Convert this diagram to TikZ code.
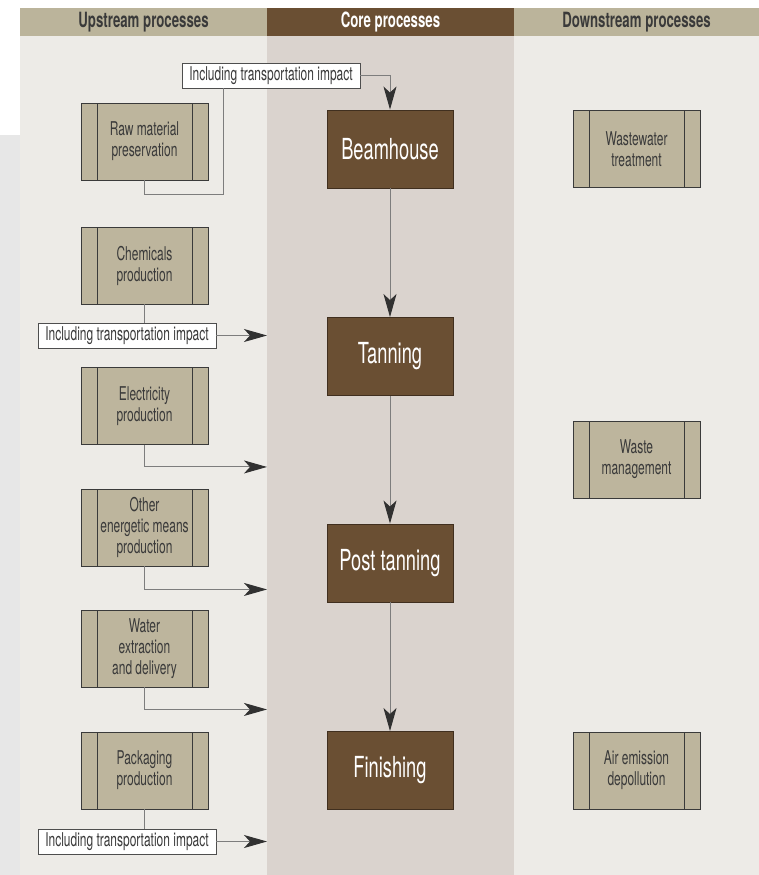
\documentclass[tikz,border=0pt]{standalone}
\usepackage{fontspec}
\setmainfont{TeX Gyre Heros}[FakeStretch=0.63]
\usetikzlibrary{arrows.meta,positioning,calc}
\definecolor{Tan}{HTML}{BDB59D}
\definecolor{HeadTan}{HTML}{BBB49B}
\definecolor{Brown}{HTML}{6A4F33}
\definecolor{CoreBg}{HTML}{DAD3CE}
\definecolor{SideBg}{HTML}{EDEBE7}
\definecolor{Strip}{HTML}{E7E7E7}
\definecolor{Ink}{HTML}{3A3A3A}
\definecolor{Wire}{HTML}{7D7D7D}
\tikzset{
  arr/.style={-{Stealth[length=23pt,width=13pt,inset=6pt,color=Ink!85!black]},line width=1pt,draw=Wire},
  conn/.style={line width=1pt,draw=Wire},
  hdr/.style={minimum width=247pt,minimum height=28pt,inner sep=0pt,font=\fontsize{21}{24}\selectfont\bfseries},
  procbox/.style={draw=Ink,fill=Tan,line width=0.9pt,minimum width=127pt,minimum height=77pt,align=center,text=Ink,
    font=\fontsize{19}{21}\selectfont,
    path picture={\draw[Ink,line width=0.9pt]
      ([xshift=16pt]path picture bounding box.north west) -- ([xshift=16pt]path picture bounding box.south west)
      ([xshift=-16pt]path picture bounding box.north east) -- ([xshift=-16pt]path picture bounding box.south east);}},
  corebox/.style={draw=Brown!60!black,fill=Brown,line width=0.9pt,minimum width=126pt,minimum height=78pt,text=white,
    font=\fontsize{29}{32}\selectfont},
  notebox/.style={draw=Ink!90,fill=white,line width=0.9pt,minimum width=178pt,minimum height=25pt,inner sep=2pt,text=Ink,
    font=\fontsize{19}{21}\selectfont}
}
\begin{document}
\begin{tikzpicture}[x=1pt,y=-1pt]
  \useasboundingbox (0,0) rectangle (759,875);
  % backgrounds
  \fill[white] (0,0) rectangle (759,875);
  \fill[Strip] (0,135) rectangle (20,875);
  \fill[SideBg] (20,36) rectangle (267,875);
  \fill[CoreBg] (267,36) rectangle (514,875);
  \fill[SideBg] (514,36) rectangle (759,875);
  \node[hdr,fill=HeadTan,text=Ink] (uphd) at (143.5,22) {Upstream processes};
  \node[hdr,fill=Brown,text=white] (corehd) at (390.5,22) {Core processes};
  \node[hdr,fill=HeadTan,text=Ink,minimum width=245pt] (downhd) at (636.5,22) {Downstream processes};
  \coordinate (corel) at (267,0);
  % upstream
  \node[procbox] (raw) at (144.5,141.5) {Raw material\\preservation};
  \node[procbox] (chem) at (144.5,265.5) {Chemicals\\production};
  \node[procbox] (elec) at (144.5,406) {Electricity\\production};
  \node[procbox] (other) at (144.5,527.5) {Other\\energetic means\\production};
  \node[procbox] (water) at (144.5,648.5) {Water\\extraction\\and delivery};
  \node[procbox] (pack) at (144.5,770.5) {Packaging\\production};
  \node[notebox] (tr1) at (271,75.5) {Including transportation impact};
  \node[notebox] (tr2) at (127,335.5) {Including transportation impact};
  \node[notebox] (tr3) at (127,841.5) {Including transportation impact};
  % core
  \node[corebox] (beam) at (390,149) {Beamhouse};
  \node[corebox] (tann) at (390,356.5) {Tanning};
  \node[corebox] (post) at (390,563) {Post tanning};
  \node[corebox] (fin) at (390,770.5) {Finishing};
  % downstream
  \node[procbox] (wastew) at (636.5,149) {Wastewater\\treatment};
  \node[procbox] (waste) at (636.5,459.5) {Waste\\management};
  \node[procbox] (air) at (636.5,770.5) {Air emission\\depollution};
  % connectors
  \draw[conn] (raw.south) -- ++(0,14) -| ([xshift=-48pt]tr1.south);
  \draw[arr] (tr1.east) -| (beam.north);
  \draw[conn] (chem.south) -- (chem.south |- tr2.north);
  \draw[arr] (tr2.east) -- (tr2.east -| corel);
  \draw[arr] (elec.south) |- ([yshift=-22pt]elec.south -| corel);
  \draw[arr] (other.south) |- ([yshift=-23pt]other.south -| corel);
  \draw[arr] (water.south) |- ([yshift=-22pt]water.south -| corel);
  \draw[conn] (pack.south) -- (pack.south |- tr3.north);
  \draw[arr] (tr3.east) -- (tr3.east -| corel);
  \draw[arr] (beam)--(tann);\draw[arr] (tann)--(post);\draw[arr] (post)--(fin);
\end{tikzpicture}
\end{document}
